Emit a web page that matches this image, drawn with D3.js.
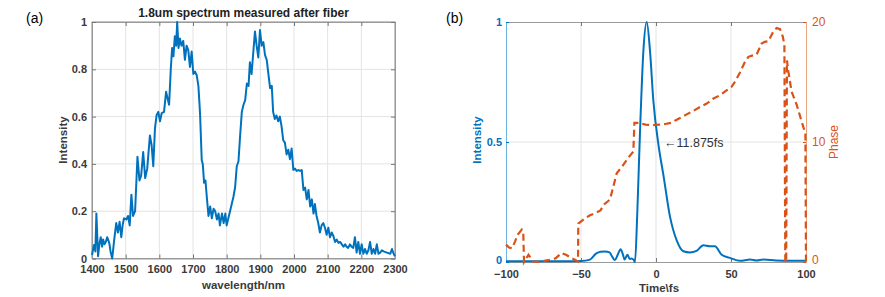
<!DOCTYPE html>
<html><head><meta charset="utf-8">
<script src="https://cdn.jsdelivr.net/npm/d3@7"></script>
<style>body{margin:0;background:#fff}svg{display:block}text{font-family:"Liberation Sans",Arial,sans-serif}</style>
</head><body>
<script>
// ---- Panel (a) data: spectrum ----
const wavelength = [1400,1406,1410,1413,1418,1422,1426,1430,1433,1437,1441,1445,1448,1452,1455,1460,1466,1472,1477,1482,1487,1491,1495,1502,1507,1512,1517,1522,1528,1535,1541,1546,1552,1558,1564,1568,1572,1577,1582,1587,1592,1597,1602,1607,1614,1620,1624,1629,1634,1638,1642,1646,1650,1653,1657,1661,1666,1671,1676,1681,1686,1691,1696,1701,1706,1711,1716,1719,1721,1726,1729,1733,1737,1741,1746,1751,1756,1761,1766,1771,1776,1780,1786,1791,1796,1800,1805,1810,1815,1820,1825,1830,1835,1840,1845,1850,1855,1860,1865,1869,1874,1879,1884,1889,1894,1899,1904,1909,1914,1919,1924,1929,1934,1938,1943,1948,1953,1958,1963,1968,1973,1978,1983,1988,1993,1998,2003,2008,2013,2018,2023,2028,2033,2038,2043,2048,2053,2058,2062,2067,2072,2077,2082,2087,2092,2097,2102,2107,2112,2117,2122,2127,2132,2137,2142,2147,2152,2156,2161,2166,2171,2176,2181,2186,2191,2196,2201,2206,2211,2216,2221,2226,2231,2236,2241,2246,2251,2256,2261,2266,2276,2286,2291,2296,2300];
const spectrum = [0.015,0.057,0.03,0.19,0.01,0.06,0.09,0.05,0.08,0.06,0.07,0.09,0.08,0.06,0.03,0.0,0.08,0.15,0.11,0.155,0.09,0.14,0.17,0.165,0.18,0.14,0.27,0.18,0.20,0.43,0.33,0.35,0.45,0.34,0.38,0.45,0.52,0.48,0.39,0.55,0.607,0.62,0.58,0.615,0.62,0.705,0.68,0.65,0.80,0.89,0.855,0.94,0.90,1.0,0.89,0.93,0.90,0.92,0.84,0.90,0.88,0.81,0.875,0.78,0.79,0.775,0.73,0.66,0.61,0.415,0.40,0.32,0.33,0.26,0.18,0.22,0.17,0.21,0.20,0.165,0.19,0.14,0.19,0.15,0.19,0.14,0.17,0.20,0.23,0.26,0.30,0.39,0.41,0.52,0.62,0.65,0.67,0.74,0.73,0.83,0.78,0.87,0.96,0.90,0.85,0.966,0.90,0.915,0.86,0.84,0.78,0.72,0.73,0.62,0.59,0.605,0.58,0.60,0.56,0.50,0.49,0.44,0.46,0.42,0.465,0.375,0.38,0.37,0.374,0.37,0.374,0.29,0.30,0.25,0.29,0.22,0.25,0.19,0.23,0.18,0.15,0.11,0.14,0.15,0.13,0.10,0.13,0.09,0.11,0.095,0.07,0.08,0.066,0.07,0.06,0.05,0.06,0.05,0.045,0.06,0.05,0.045,0.09,0.025,0.07,0.02,0.06,0.02,0.04,0.02,0.035,0.07,0.02,0.04,0.02,0.06,0.02,0.025,0.035,0.03,0.025,0.02,0.04,0.02,0.01];
const aXTicks = [1400,1500,1600,1700,1800,1900,2000,2100,2200,2300];
const aYTicks = [0,0.2,0.4,0.6,0.8,1];

// ---- Panel (b) data: pulse intensity & phase ----
const timeI = [-100,-80,-60,-50,-44,-40,-37,-34,-31,-29,-27.5,-25.5,-23.6,-22,-21,-19,-17.5,-16.5,-15,-14,-12.5,-10.7,-8.4,-6.2,-4,-1.8,1.6,5,9.3,13.8,18.2,22.7,27,31.6,36,39.3,43.8,49.3,56,62.7,67,71.6,80,90,100];
const intensity = [0.003,0.003,0.003,0.004,0.01,0.035,0.043,0.044,0.04,0.02,0.008,0.03,0.053,0.03,0.01,0.03,0.012,0.015,0.01,0.0,0.2,0.536,0.88,1.0,0.88,0.675,0.49,0.36,0.19,0.09,0.045,0.04,0.046,0.07,0.066,0.066,0.03,0.017,0.005,0.01,0.006,0.01,0.006,0.005,0.005];
const timeP = [-100,-98,-96,-94,-92,-89.5,-88.5,-88,-85,-82,-78,-72,-67,-63,-60,-56,-53.5,-52,-51.8,-47.8,-44,-40,-37,-34.6,-30.7,-28,-26.2,-22.9,-18.4,-15.1,-14.4,-11.6,-7,-2.7,2,6.2,10,12.9,16,20.4,25,29,33.8,38,42.7,47,50.4,53,56,59,61.6,64,67.1,70.4,72.5,74.9,78.2,80.4,82.7,84.5,85.6,86.2,86.8,87.3,88.2,90.4,93.8,97.1,99.6,100];
const phase = [1.45,1.2,1.15,1.7,2.3,2.7,2.5,0,0.6,0.05,0,0.15,0.3,0.75,0.6,0.3,0.15,0.05,3.2,3.6,3.9,4.1,4.3,4.8,5.2,6.5,7.4,7.9,8.7,9.2,11.6,11.6,11.45,11.4,11.45,11.5,11.6,11.8,12.0,12.3,12.6,12.9,13.2,13.6,13.9,14.3,14.6,15.1,15.8,16.6,17.1,17.2,17.3,18.2,18.35,18.4,19.2,19.5,19.4,18.8,18.1,0,0,16.8,15.9,14.2,13.1,11.7,10.7,0];
const bXTicks = [-100,-50,0,50,100];
const bYLeftTicks = [0,0.5,1];
const bYLabels = ["0","0.5","1"];
const bYRightTicks = [0,10,20];
const annotation = "\u219011.875fs";

const W = 885, H = 297;
const svg = d3.select("body").append("svg").attr("width", W).attr("height", H);

const BLUE = "#0072BD", ORANGE = "#D95319", GRID = "#e3e3e3", AX = "#9a9a9a", TXT = "#3a3a3a";

// ---------- Panel (a) ----------
const ax = d3.scaleLinear().domain([1400,2300]).range([92,395]);
const ay = d3.scaleLinear().domain([0,1]).range([258.5,22]);
const ga = svg.append("g");
ga.selectAll(".gx").data(aXTicks).join("line").attr("x1",d=>ax(d)).attr("x2",d=>ax(d)).attr("y1",ay(0)).attr("y2",ay(1)).attr("stroke",GRID).attr("stroke-width",1);
ga.selectAll(".gy").data(aYTicks).join("line").attr("class","gy").attr("x1",ax(1400)).attr("x2",ax(2300)).attr("y1",d=>ay(d)).attr("y2",d=>ay(d)).attr("stroke",GRID).attr("stroke-width",1);
ga.append("rect").attr("x",ax(1400)).attr("y",ay(1)).attr("width",ax(2300)-ax(1400)).attr("height",ay(0)-ay(1)).attr("fill","none").attr("stroke",AX).attr("stroke-width",1);
const axB = d3.axisBottom(ax).tickValues(aXTicks).tickSize(-4).tickPadding(7).tickFormat(d3.format("d"));
const gB = ga.append("g").attr("transform",`translate(0,${ay(0)})`).call(axB);
const axT = d3.axisTop(ax).tickValues(aXTicks).tickSize(-4).tickFormat("");
const gT = ga.append("g").attr("transform",`translate(0,${ay(1)})`).call(axT);
const axL = d3.axisLeft(ay).tickValues(aYTicks).tickSize(-4).tickPadding(5).tickFormat(d=>d===0||d===1?d3.format("d")(d):d3.format(".1f")(d));
const gL = ga.append("g").attr("transform",`translate(${ax(1400)},0)`).call(axL);
const axR = d3.axisRight(ay).tickValues(aYTicks).tickSize(-4).tickFormat("");
const gR = ga.append("g").attr("transform",`translate(${ax(2300)},0)`).call(axR);
[gB,gT,gL,gR].forEach(g=>{g.select(".domain").attr("stroke",AX);g.selectAll(".tick line").attr("stroke","#777");
  g.selectAll("text").attr("fill",TXT).attr("font-size","11px").attr("font-weight","bold").attr("font-family","Liberation Sans, Arial, sans-serif");});
ga.append("path").datum(d3.zip(wavelength,spectrum)).attr("fill","none").attr("stroke",BLUE).attr("stroke-width",2).attr("stroke-linejoin","round")
  .attr("d",d3.line().x(d=>ax(d[0])).y(d=>ay(d[1])));
ga.append("text").attr("x",243.5).attr("y",17).attr("text-anchor","middle").attr("font-size","12px").attr("font-weight","bold").attr("fill","#222").text("1.8um spectrum measured after fiber");
ga.append("text").attr("x",243.5).attr("y",289).attr("text-anchor","middle").attr("font-size","11.5px").attr("font-weight","bold").attr("fill",TXT).text("wavelength/nm");
ga.append("text").attr("transform","translate(67,140) rotate(-90)").attr("text-anchor","middle").attr("font-size","11.5px").attr("font-weight","bold").attr("fill",TXT).text("Intensity");
svg.append("text").attr("x",26).attr("y",23).attr("font-size","14px").attr("fill","#000").text("(a)");

// ---------- Panel (b) ----------
const bx = d3.scaleLinear().domain([-100,100]).range([506,806]);
const byL = d3.scaleLinear().domain([0,1]).range([262,22]);
const byR = d3.scaleLinear().domain([0,20]).range([262,22]);
const gb = svg.append("g");
gb.selectAll(".gbx").data(bXTicks.slice(1,-1)).join("line").attr("x1",d=>bx(d)).attr("x2",d=>bx(d)).attr("y1",byL(0)).attr("y2",byL(1)).attr("stroke",GRID);
gb.selectAll(".gby").data([0.5]).join("line").attr("class","gby").attr("x1",bx(-100)).attr("x2",bx(100)).attr("y1",d=>byL(d)).attr("y2",d=>byL(d)).attr("stroke",GRID);
const bB = gb.append("g").attr("transform",`translate(0,${byL(0)})`).call(d3.axisBottom(bx).tickValues(bXTicks).tickSize(-4).tickPadding(8));
const bT = gb.append("g").attr("transform",`translate(0,${byL(1)})`).call(d3.axisTop(bx).tickValues(bXTicks).tickSize(-4).tickFormat(""));
[bB,bT].forEach(g=>{g.select(".domain").attr("stroke",AX);g.selectAll(".tick line").attr("stroke","#777");
  g.selectAll("text").attr("fill",TXT).attr("font-size","11px").attr("font-weight","bold").attr("font-family","Liberation Sans, Arial, sans-serif");});
const bL = gb.append("g").attr("transform",`translate(${bx(-100)},0)`).call(d3.axisLeft(byL).tickValues(bYLeftTicks).tickSize(-3).tickPadding(4).tickFormat((d,i)=>bYLabels[i]));
bL.select(".domain").attr("stroke","#6bb6e3");bL.selectAll(".tick line").attr("stroke",BLUE);
bL.selectAll("text").attr("fill",BLUE).attr("font-size","11px").attr("font-weight","bold").attr("font-family","Liberation Sans, Arial, sans-serif");
bL.selectAll(".tick").filter(d=>d===0).select("text").attr("dy","0.1em");
const bR = gb.append("g").attr("transform",`translate(${bx(100)},0)`).call(d3.axisRight(byR).tickValues(bYRightTicks).tickSize(-3).tickPadding(6));
bR.select(".domain").attr("stroke","#e8a57e");bR.selectAll(".tick line").attr("stroke",ORANGE);
bR.selectAll("text").attr("fill",ORANGE).attr("font-size","12px").attr("font-family","Liberation Sans, Arial, sans-serif");
bR.selectAll(".tick").filter(d=>d===0).select("text").attr("dy","0.1em");
gb.append("path").datum(d3.zip(timeI,intensity)).attr("fill","none").attr("stroke",BLUE).attr("stroke-width",2)
  .attr("d",d3.line().x(d=>bx(d[0])).y(d=>byL(d[1])).curve(d3.curveMonotoneX));
gb.append("path").datum(d3.zip(timeP,phase)).attr("fill","none").attr("stroke",ORANGE).attr("stroke-width",2.2).attr("stroke-dasharray","7,4")
  .attr("d",d3.line().x(d=>bx(d[0])).y(d=>byR(d[1])));
gb.append("text").attr("x",664).attr("y",147).attr("font-size","12.5px").attr("fill","#333").text(annotation);
gb.append("text").attr("x",659).attr("y",292).attr("text-anchor","middle").attr("font-size","11.5px").attr("font-weight","bold").attr("fill",TXT).text("Time\\fs");
gb.append("text").attr("transform","translate(481,140) rotate(-90)").attr("text-anchor","middle").attr("font-size","11.5px").attr("font-weight","bold").attr("fill",BLUE).text("Intensity");
gb.append("text").attr("transform","translate(838,142) rotate(-90)").attr("text-anchor","middle").attr("font-size","12px").attr("fill",ORANGE).text("Phase");
svg.append("text").attr("x",446).attr("y",23).attr("font-size","14px").attr("fill","#000").text("(b)");
</script>
</body></html>
